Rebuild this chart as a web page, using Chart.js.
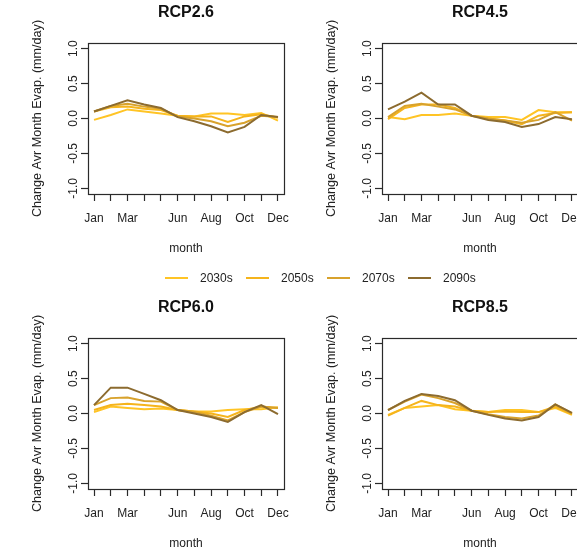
<!DOCTYPE html>
<html>
<head>
<meta charset="utf-8">
<script src="https://cdn.jsdelivr.net/npm/chart.js@4/dist/chart.umd.min.js"></script>
<style>
  html, body { margin: 0; padding: 0; background: #fff; }
  #wrap { position: relative; width: 577px; height: 553px; overflow: hidden; background: #fff; }
  .panel { position: absolute; width: 294px; height: 295px; }
  .panel canvas { display: block; }
  #legend { position: absolute; left: 165px; top: 270px; height: 16px; display: flex; align-items: center;
            font: 12px "Liberation Sans", Arial, sans-serif; color: #222; }
  #legend .item { display: flex; align-items: center; width: 81px; }
  #legend .swatch { width: 23px; height: 2px; margin-right: 12px; }
</style>
</head>
<body>
<div id="wrap">
  <div class="panel" style="left:0;top:0"><canvas id="p0" width="294" height="295"></canvas></div>
  <div class="panel" style="left:294px;top:0"><canvas id="p1" width="294" height="295"></canvas></div>
  <div class="panel" style="left:0;top:295px"><canvas id="p2" width="294" height="295"></canvas></div>
  <div class="panel" style="left:294px;top:295px"><canvas id="p3" width="294" height="295"></canvas></div>
  <div id="legend"></div>
</div>
<script>
const months = ['Jan', 'Feb', 'Mar', 'Apr', 'May', 'Jun', 'Jul', 'Aug', 'Sep', 'Oct', 'Nov', 'Dec'];
const shownMonths = ['Jan', 'Mar', 'Jun', 'Aug', 'Oct', 'Dec'];
const yTicks = [-1.0, -0.5, 0.0, 0.5, 1.0];
const periods = ['2030s', '2050s', '2070s', '2090s'];
const periodColors = ['#FFC425', '#F5B41C', '#D8A22C', '#8C6B2F'];
const scenarios = ['RCP2.6', 'RCP4.5', 'RCP6.0', 'RCP8.5'];

// change in average monthly evaporation (mm/day), one array per period
const rcp26_2030s = [-0.02, 0.05, 0.13, 0.10, 0.07, 0.04, 0.03, 0.07, 0.07, 0.05, 0.08, -0.03];
const rcp26_2050s = [0.10, 0.16, 0.17, 0.14, 0.12, 0.04, 0.03, 0.03, -0.05, 0.03, 0.06, 0.01];
const rcp26_2070s = [0.10, 0.18, 0.21, 0.17, 0.14, 0.03, 0.00, -0.04, -0.11, -0.06, 0.04, 0.02];
const rcp26_2090s = [0.10, 0.18, 0.26, 0.20, 0.15, 0.02, -0.04, -0.11, -0.20, -0.12, 0.05, 0.02];

const rcp45_2030s = [0.02, -0.01, 0.05, 0.05, 0.07, 0.04, 0.02, 0.02, -0.02, 0.12, 0.09, 0.09];
const rcp45_2050s = [-0.01, 0.15, 0.20, 0.20, 0.15, 0.04, 0.00, -0.03, -0.08, 0.04, 0.08, 0.09];
const rcp45_2070s = [0.02, 0.18, 0.21, 0.17, 0.13, 0.04, 0.00, -0.03, -0.06, -0.02, 0.09, -0.03];
const rcp45_2090s = [0.13, 0.24, 0.37, 0.20, 0.20, 0.04, -0.02, -0.05, -0.12, -0.08, 0.02, -0.01];

const rcp60_2030s = [0.02, 0.10, 0.08, 0.06, 0.07, 0.05, 0.03, 0.03, 0.05, 0.06, 0.06, 0.09];
const rcp60_2050s = [0.05, 0.12, 0.14, 0.12, 0.10, 0.05, 0.03, 0.00, -0.05, 0.05, 0.10, 0.08];
const rcp60_2070s = [0.12, 0.22, 0.23, 0.18, 0.17, 0.05, 0.02, -0.03, -0.10, 0.02, 0.10, 0.08];
const rcp60_2090s = [0.12, 0.37, 0.37, 0.28, 0.19, 0.05, 0.00, -0.05, -0.12, 0.02, 0.12, -0.01];

const rcp85_2030s = [-0.02, 0.08, 0.10, 0.12, 0.06, 0.04, 0.02, 0.05, 0.05, 0.02, 0.08, -0.02];
const rcp85_2050s = [-0.03, 0.08, 0.18, 0.12, 0.10, 0.04, 0.02, 0.03, 0.02, 0.02, 0.10, -0.01];
const rcp85_2070s = [0.05, 0.17, 0.27, 0.22, 0.15, 0.04, -0.01, -0.05, -0.07, -0.03, 0.13, 0.00];
const rcp85_2090s = [0.05, 0.18, 0.28, 0.25, 0.19, 0.04, -0.02, -0.07, -0.10, -0.05, 0.13, 0.01];

const panelSeries = [
  [rcp26_2030s, rcp26_2050s, rcp26_2070s, rcp26_2090s],
  [rcp45_2030s, rcp45_2050s, rcp45_2070s, rcp45_2090s],
  [rcp60_2030s, rcp60_2050s, rcp60_2070s, rcp60_2090s],
  [rcp85_2030s, rcp85_2050s, rcp85_2070s, rcp85_2090s],
];

const FONT = '"Liberation Sans", Arial, sans-serif';
const INK = '#222';

// R-style box around the plotting region
const boxPlugin = {
  id: 'rbox',
  afterDraw(chart) {
    const { ctx, chartArea: a } = chart;
    ctx.save();
    ctx.strokeStyle = '#2a2a2a';
    ctx.lineWidth = 1.2;
    ctx.strokeRect(Math.round(a.left) + 0.5, Math.round(a.top) + 0.5,
      Math.round(a.right - a.left), Math.round(a.bottom - a.top));
    ctx.restore();
  },
};

function makePanel(canvasId, title, series) {
  const ctx = document.getElementById(canvasId).getContext('2d');
  const datasets = series.map((vals, i) => ({
    label: periods[i],
    data: vals.map((v, m) => ({ x: m + 1, y: v })),
    borderColor: periodColors[i],
    backgroundColor: periodColors[i],
    borderWidth: 2,
    pointRadius: 0,
    tension: 0,
    fill: false,
    order: periods.length - 1 - i,
  }));

  return new Chart(ctx, {
    type: 'line',
    data: { datasets },
    options: {
      responsive: false,
      animation: false,
      events: [],
      layout: { padding: { left: 0, top: 0, bottom: 0, right: 10 } },
      scales: {
        x: {
          type: 'linear',
          min: 0.64,
          max: 12.36,
          afterBuildTicks: (scale) => { scale.ticks = months.map((_, m) => ({ value: m + 1 })); },
          afterFit: (scale) => {
            scale.height = 101;
            scale.paddingLeft = 0;
            scale.paddingRight = 0;
          },
          grid: { drawOnChartArea: false, drawTicks: true, tickLength: 7, tickColor: '#2a2a2a', tickWidth: 1.2 },
          border: { display: false },
          ticks: {
            autoSkip: false,
            maxRotation: 0,
            padding: 10,
            color: INK,
            font: { family: FONT, size: 12 },
            callback: (v) => {
              const name = months[Math.round(v) - 1];
              return shownMonths.includes(name) ? name : '';
            },
          },
          title: { display: true, text: 'month', color: INK, font: { family: FONT, size: 12 }, padding: { top: 0, bottom: 39 } },
        },
        y: {
          type: 'linear',
          min: -1.08,
          max: 1.08,
          afterBuildTicks: (scale) => { scale.ticks = yTicks.map(v => ({ value: v })); },
          afterFit: (scale) => {
            scale.width = 88;
            scale.paddingTop = 0;
            scale.paddingBottom = 0;
          },
          grid: { drawOnChartArea: false, drawTicks: true, tickLength: 7, tickColor: '#2a2a2a', tickWidth: 1.2 },
          border: { display: false },
          ticks: {
            minRotation: 90,
            maxRotation: 90,
            crossAlign: 'center',
            padding: -3,
            color: INK,
            font: { family: FONT, size: 12 },
            callback: (v) => Number(v).toFixed(1),
          },
          title: { display: true, text: 'Change Avr Month Evap. (mm/day)', color: INK, font: { family: FONT, size: 12.6 }, padding: { top: 29.5, bottom: 0 } },
        },
      },
      plugins: {
        legend: { display: false },
        tooltip: { enabled: false },
        title: {
          display: true,
          text: title,
          fullSize: false,
          color: '#111',
          font: { family: FONT, size: 16, weight: 'bold' },
          padding: { top: 3, bottom: 20.8 },
        },
      },
    },
    plugins: [boxPlugin],
  });
}

function buildLegend() {
  const el = document.getElementById('legend');
  periods.forEach((p, i) => {
    const item = document.createElement('div');
    item.className = 'item';
    const sw = document.createElement('span');
    sw.className = 'swatch';
    sw.style.background = periodColors[i];
    const txt = document.createElement('span');
    txt.textContent = p;
    item.appendChild(sw);
    item.appendChild(txt);
    el.appendChild(item);
  });
}

scenarios.forEach((s, i) => makePanel('p' + i, s, panelSeries[i]));
buildLegend();
</script>
</body>
</html>
